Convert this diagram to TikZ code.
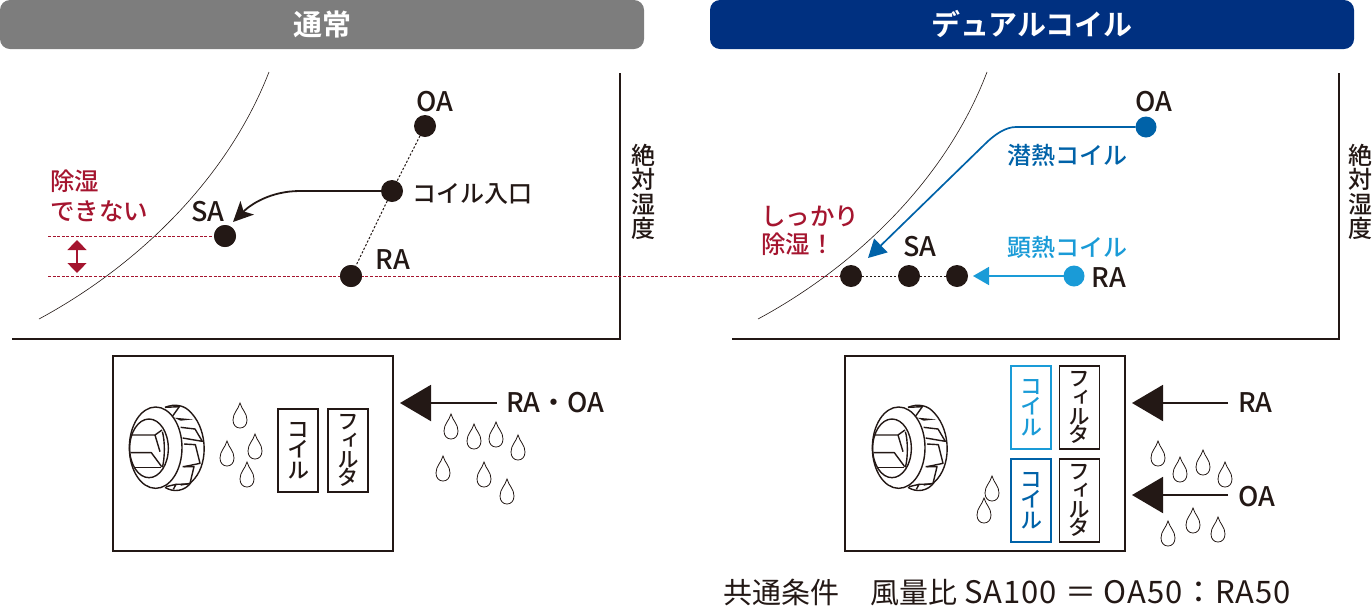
\documentclass[tikz,border=0pt]{standalone}
\usepackage{fontspec}
\setmainfont{Noto Sans CJK JP}[UprightFont=* Medium,BoldFont=* Bold]
\newfontfamily\vjp[RawFeature=+vert,UprightFont=* Medium]{Noto Sans CJK JP}
\newfontfamily\regjp{Noto Sans CJK JP}
\usetikzlibrary{arrows.meta}
\definecolor{ink}{HTML}{231815}
\definecolor{hgrey}{HTML}{7D7D7D}
\definecolor{hnavy}{HTML}{003080}
\definecolor{wine}{HTML}{A5152F}
\definecolor{deepblue}{HTML}{0062A8}
\definecolor{skyblue}{HTML}{1A9BD7}
\tikzset{
 x=1pt,y=-1pt,
 every node/.style={inner sep=0pt,outer sep=0pt,text=ink},
 header/.style={rounded corners=10pt,minimum height=49pt,anchor=north west,font=\fontsize{29}{29}\selectfont\bfseries,text=white},
 axisline/.style={draw=ink,line width=1.1pt},
 sat/.style={draw=ink,line width=0.6pt},
 dotb/.style={circle,fill=ink,minimum size=22pt},
 dotc/.style={circle,minimum size=21pt},
 lbl/.style={font=\fontsize{24}{24}\selectfont},
 latin/.style={font=\fontsize{27}{27}\selectfont},
 vlbl/.style={font=\fontsize{24}{24.5}\selectfont,align=center},
 redtxt/.style={text=wine,anchor=north west,align=left,font=\fontsize{24.5}{24.5}\selectfont},
 tiedot/.style={draw=ink,line width=1pt,dash pattern=on 2.2pt off 1.8pt},
 reddash/.style={draw=wine,line width=1pt,dash pattern=on 3pt off 1.6pt},
 casing/.style={draw=ink,line width=1.8pt,minimum width=280pt,minimum height=195pt,anchor=north west},
 part/.style={draw=#1,line width=1.3pt,minimum width=40pt,minimum height=83pt,anchor=north west,align=center,text=#1,font=\vjp\fontsize{22}{20.5}\selectfont},
 part/.default=ink,
 filt/.style={part,font=\vjp\fontsize{21.5}{18.8}\selectfont},
 inflow/.style={draw=ink,line width=2pt,-{Triangle[length=31pt,width=36pt,fill=ink]}},
 drop/.pic={\draw[ink,line width=0.8pt] (0,-13) .. controls (2,-6) and (7,-3) .. (7,4) .. controls (7,9) and (4,12) .. (0,12) .. controls (-4,12) and (-7,9) .. (-7,4) .. controls (-7,-3) and (-2,-6) .. (0,-13) -- cycle;},
 fan/.pic={\begin{scope}[scale=1/3,ink,line width=1.4pt,line join=round]
  \draw (165,172) .. controls (195,160) and (225,165) .. (245,190) .. controls (295,245) and (295,350) .. (245,395) .. controls (225,425) and (190,428) .. (165,412);
  \draw (137,293) ellipse [x radius=79,y radius=122];
  \draw (117,295) ellipse [x radius=58,y radius=88];
  \draw (165,172) -- (208,170) -- (188,198);
  \fill (192,203) -- (250,208) -- (212,212) -- cycle;
  \draw (212,232) -- (255,237) -- (277,274) -- (218,264);
  \draw (222,282) -- (256,284) -- (270,340) -- (222,350);
  \draw (218,350) -- (252,350) -- (240,400) -- (212,405);
  \draw (168,410) -- (198,403) -- (190,418);
  \draw (198,403) -- (235,402);
  \draw (62,255) -- (135,255) -- (150,305);
  \draw (62,308) -- (124,308) -- (155,350);
  \draw (72,352) -- (152,352);
  \draw (135,255) -- (156,240);
  \draw (157,245) .. controls (165,270) and (165,325) .. (157,352);
 \end{scope}}
}
\begin{document}
\begin{tikzpicture}
\useasboundingbox (0,0) rectangle (1372,606);
% headers
\node[header,fill=hgrey,minimum width=644pt] (hl) at (0,0) {通常};
\node[header,fill=hnavy,minimum width=644pt] (hr) at (710,0) {デュアルコイル};
% left chart
\coordinate (lyt) at (620,73); \coordinate (lorg) at (620,339); \coordinate (lxl) at (12,339);
\draw[axisline] (lyt) -- (lorg) -- (lxl);
\draw[sat] (39,319) .. controls (130,270) and (225,185) .. (269,72);
\node[vlbl] (lah) at (643,192) {絶\\対\\湿\\度};
\node[dotb] (loa) at (425,126) {};
\node[dotb] (lin) at (392,191) {};
\node[dotb] (lsa) at (225,236) {};
\node[dotb] (lra) at (351,276) {};
\draw[tiedot] (loa) -- (lin);
\draw[tiedot] (lin) -- (lra);
\node[latin] (loat) at (435,102) {OA};
\node[lbl,anchor=west] (lint) at (412,194) {コイル入口};
\node[latin] (lsat) at (208,212) {SA};
\node[latin] (lrat) at (393,260) {RA};
\draw[draw=ink,line width=1.8pt,-{Stealth[length=20pt,width=19pt,inset=5pt]}] (lin) -- (300,191) .. controls (270,191) and (250,205) .. (233,222);
\node[redtxt] (ltxt1) at (50,170) {除湿};
\node[redtxt] (ltxt2) at (50,201) {できない};
\coordinate (rl1) at (48,236); \coordinate (rl2) at (48,276);
\draw[reddash] (rl1) -- (lsa);
\node[dotb] (rdot1) at (851,276) {};
\draw[reddash] (rl2) -- (rdot1);
\node[dotb] at (351,276) {};
\node[dotb] at (225,236) {};
\coordinate (dbt) at (77,240); \coordinate (dbb) at (77,273);
\draw[draw=wine,line width=1.2pt,{Triangle[length=10pt,width=19pt]}-{Triangle[length=10pt,width=19pt]}] (dbt) -- (dbb);
% right chart
\coordinate (ryt) at (1339,73); \coordinate (rorg) at (1339,339); \coordinate (rxl) at (732,339);
\draw[axisline] (ryt) -- (rorg) -- (rxl);
\draw[sat] (758,319) .. controls (849,270) and (944,185) .. (987,72);
\node[vlbl] (rah) at (1360,192) {絶\\対\\湿\\度};
\node[dotb] (rsa) at (909,276) {};
\node[dotb] (rend) at (957,276) {};
\node[dotc,fill=deepblue] (roa) at (1146,127) {};
\node[dotc,fill=skyblue] (rra) at (1074,276) {};
\draw[tiedot] (rdot1) -- (rsa);
\draw[tiedot] (rsa) -- (rend);
\draw[draw=deepblue,line width=1.7pt,-{Triangle[length=18pt,width=19pt,fill=deepblue]}] (roa) -- (1016,127) .. controls (1006,127) and (995,134) .. (985,144) -- (868,258);
\draw[draw=skyblue,line width=1.7pt,-{Triangle[length=16pt,width=18pt,fill=skyblue]}] (rra) -- (973,276);
\node[latin] (roat) at (1154,102) {OA};
\node[lbl,text=deepblue] (rlat) at (1067,155) {潜熱コイル};
\node[latin] (rsat) at (920,247) {SA};
\node[lbl,text=skyblue] (rsen) at (1067,247) {顕熱コイル};
\node[latin] (rrat) at (1109,278) {RA};
\node[redtxt] (rtxt1) at (761,206) {しっかり};
\node[redtxt] (rtxt2) at (761,233) {除湿！};
% left box
\node[casing] (lbox) at (113,356) {};
\pic at (110,350) {fan};
\node[part] (lcoil) at (278,409) {コ\\イ\\ル};
\node[filt] (lfilt) at (328,409) {フ\\ィ\\ル\\タ};
\foreach \p/\q in {240/416,255/447,227/454,247/475,451/427,474/437,496/435,518/448,443/469,484/475,507/492}
  \pic at (\p,\q) {drop};
\coordinate (la0) at (497,403); \coordinate (la1) at (400,403);
\draw[inflow] (la0) -- (la1);
\node[latin,anchor=west] (lft) at (506,403) {RA・OA};
% right box
\node[casing] (rbox) at (845,356) {};
\pic at (853,350) {fan};
\node[part=skyblue] (rc1) at (1011,366) {コ\\イ\\ル};
\node[filt] (rf1) at (1059.5,366) {フ\\ィ\\ル\\タ};
\node[part=deepblue] (rc2) at (1011,459) {コ\\イ\\ル};
\node[filt] (rf2) at (1059.5,459) {フ\\ィ\\ル\\タ};
\foreach \p/\q in {992/489,984/511,1158/454,1180/470,1203/463,1225/475,1168/534,1193/521,1218/530}
  \pic at (\p,\q) {drop};
\coordinate (ra0) at (1228,403); \coordinate (ra1) at (1132,403);
\draw[inflow] (ra0) -- (ra1);
\node[latin,anchor=west] (rlab1) at (1238,403) {RA};
\coordinate (ra2) at (1228,495); \coordinate (ra3) at (1132,495);
\draw[inflow] (ra2) -- (ra3);
\node[latin,anchor=west] (rlab2) at (1238,497) {OA};
\node[anchor=west,font=\regjp\fontsize{29}{30}\selectfont] (cond) at (723,592) {共通条件\hspace{32pt}風量比 {\addfontfeature{LetterSpace=3}\fontsize{31}{31}\selectfont SA100 ＝ OA50：RA50}};
\end{tikzpicture}
\end{document}
